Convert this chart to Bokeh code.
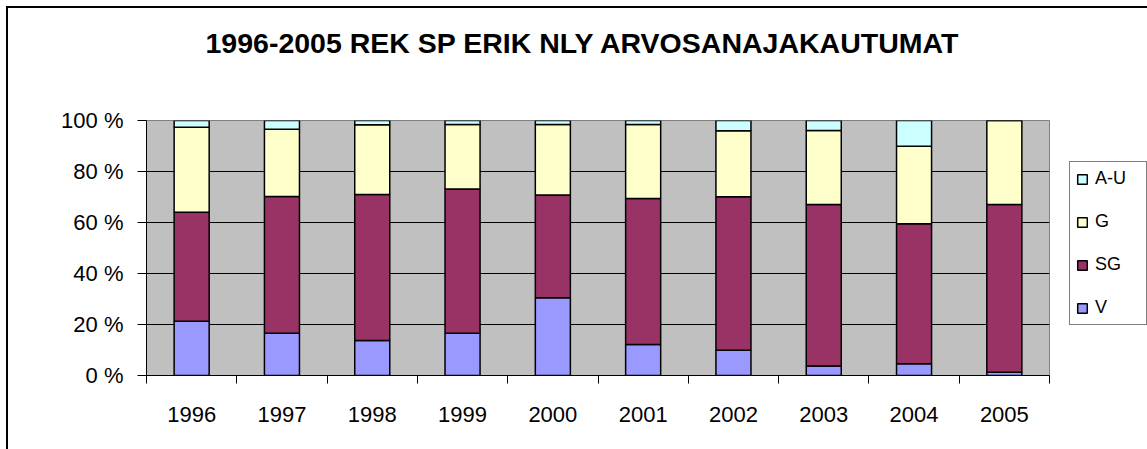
from bokeh.plotting import figure
from bokeh.models import (ColumnDataSource, Range1d, FixedTicker, PrintfTickFormatter,
                          Legend, LegendItem, Title)
from bokeh.embed import file_html
from bokeh.resources import INLINE

years = ["1996", "1997", "1998", "1999", "2000", "2001", "2002", "2003", "2004", "2005"]
series = ["V", "SG", "G", "A-U"]
v_vals = [21.3, 16.6, 13.7, 16.6, 30.5, 12.2, 9.9, 3.7, 4.6, 1.3]
sg_vals = [42.7, 53.6, 57.3, 56.5, 40.3, 57.2, 60.2, 63.4, 54.9, 65.8]
g_vals = [33.4, 26.4, 27.3, 25.3, 27.6, 29.0, 25.9, 29.0, 30.4, 32.9]
au_vals = [2.6, 3.4, 1.7, 1.6, 1.6, 1.6, 4.0, 3.9, 10.1, 0.0]
colors = ["#9999FF", "#993366", "#FFFFCC", "#CCFFFF"]
y_ticks = [0, 20, 40, 60, 80, 100]
title_text = "1996-2005 REK SP ERIK NLY ARVOSANAJAKAUTUMAT"

n = len(years)
centers = [i + 0.5 for i in range(n)]
source = ColumnDataSource(dict(x=centers, year=years, V=v_vals, SG=sg_vals, G=g_vals, **{"A-U": au_vals}))

p = figure(width=1147, height=449, frame_width=903, frame_height=255,
           x_range=Range1d(0, n), y_range=Range1d(0, 100),
           output_backend="svg", toolbar_location=None,
           min_border_left=146, min_border_right=98, min_border_top=120, min_border_bottom=74)
# chart-area frame lines on the top and left edges
p.styles = {"box-shadow": "inset 6px 6px 0 0 #ffffff, inset 8px 8px 0 0 #000000",
            "background-color": "#ffffff"}

p.background_fill_color = "#C0C0C0"
p.border_fill_alpha = 0
p.outline_line_color = "#808080"
p.outline_line_width = 1

p.title = Title(text=title_text, align="left", offset=59, standoff=0,
                text_font="Liberation Sans", text_font_style="bold",
                text_font_size="28.5px", text_color="black")
# blank spacer between title and plot area
p.add_layout(Title(text=" ", standoff=29, text_font="Liberation Sans",
                   text_font_size="28px"), "above")

renderers = p.vbar_stack(series, x="x", width=0.388, source=source, color=colors,
                         line_color="black", line_width=1.5)

# axes
p.xgrid.grid_line_color = None
p.ygrid.grid_line_color = "black"
p.ygrid.grid_line_width = 1
p.ygrid.ticker = FixedTicker(ticks=y_ticks)

xa = p.xaxis[0]
xa.ticker = FixedTicker(ticks=centers, minor_ticks=list(range(n + 1)))
xa.major_label_overrides = {c: y for c, y in zip(centers, years)}
xa.major_tick_out = 0
xa.major_tick_in = 0
xa.minor_tick_out = 8
xa.minor_tick_in = 0
xa.minor_tick_line_color = "black"
xa.axis_line_color = "black"
xa.major_label_standoff = 23
xa.major_label_text_font = "Liberation Sans"
xa.major_label_text_font_size = "22px"
xa.major_label_text_color = "black"

ya = p.yaxis[0]
ya.ticker = FixedTicker(ticks=y_ticks)
ya.formatter = PrintfTickFormatter(format="%d %%")
ya.major_tick_out = 9
ya.major_tick_in = 0
ya.minor_tick_line_color = None
ya.major_tick_line_color = "black"
ya.axis_line_color = "black"
ya.major_label_standoff = 14
ya.major_label_text_font = "Liberation Sans"
ya.major_label_text_font_size = "22px"
ya.major_label_text_color = "black"

# legend (order: A-U, G, SG, V)
items = [LegendItem(label=series[i], renderers=[renderers[i]]) for i in reversed(range(len(series)))]
legend = Legend(items=items, location=(20, 50), margin=0, padding=6,
                glyph_width=12, glyph_height=12, label_height=20, label_width=45,
                label_standoff=7, spacing=22,
                label_text_font="Liberation Sans", label_text_font_size="18px",
                label_text_color="black",
                border_line_color="black", border_line_width=1,
                background_fill_color="white", background_fill_alpha=1)
p.add_layout(legend, "right")

open("out.html", "w").write(file_html(p, INLINE))
